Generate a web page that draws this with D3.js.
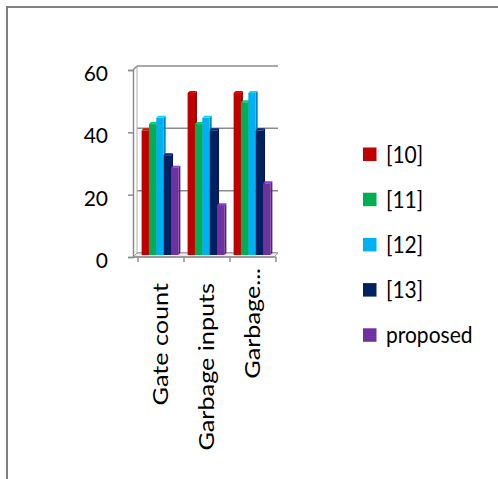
<!DOCTYPE html>
<html>
<head>
<meta charset="utf-8">
<script src="https://cdn.jsdelivr.net/npm/d3@7"></script>
<style>
  body { margin: 0; background: #fff; }
  svg text { font-family: Lato, "Open Sans", sans-serif; fill: #000; }
</style>
</head>
<body>
<script>
(function() {
    const categories = ['Gate count', 'Garbage inputs', 'Garbage...'];
    const seriesNames = ['[10]', '[11]', '[12]', '[13]', 'proposed'];
    const seriesColors = ['#c00000', '#00b050', '#00b0f0', '#002060', '#7030a0'];
    const values10 = [40, 52, 52];
    const values11 = [42, 42, 49];
    const values12 = [44, 44, 52];
    const values13 = [32, 40, 40];
    const valuesProposed = [28, 16, 23];
    const yTicks = [0, 20, 40, 60];

    const allSeries = [values10, values11, values12, values13, valuesProposed];

    const width = 498,
          height = 479,
          depthX = 4,
          depthY = 4,
          labelStretch = 1.2;

    let svg = d3.select('body')
                .append('svg')
                .attr('width', width)
                .attr('height', height);

    // outer chart frame
    svg.append('rect')
       .attr('x', 7).attr('y', 7)
       .attr('width', 520).attr('height', 500)
       .attr('fill', 'none')
       .attr('stroke', '#808080')
       .attr('stroke-width', 2);

    let x = d3.scaleBand()
              .domain(categories)
              .range([137, 275])
              .paddingInner(0.2)
              .paddingOuter(0.1);

    let xInner = d3.scaleBand()
                   .domain(d3.range(seriesNames.length))
                   .range([0, x.bandwidth()]);

    let y = d3.scaleLinear()
              .domain([0, 60])
              .range([257, 70]);

    const backLeft = 133 + depthX,
          backRight = 278;

    // back wall gridlines
    svg.append('g')
       .selectAll('line')
       .data(yTicks)
       .enter()
       .append('line')
       .attr('x1', backLeft)
       .attr('x2', backRight)
       .attr('y1', d => y(d) - depthY)
       .attr('y2', d => y(d) - depthY)
       .attr('stroke', '#8c8c8c')
       .attr('stroke-width', 1.5);

    // side wall
    svg.append('line')
       .attr('x1', backLeft).attr('x2', backLeft)
       .attr('y1', y(60) - depthY).attr('y2', y(0) - depthY)
       .attr('stroke', '#b0b0b0');
    svg.append('line')
       .attr('x1', 133).attr('y1', y(60))
       .attr('x2', backLeft).attr('y2', y(60) - depthY)
       .attr('stroke', '#8c8c8c').attr('stroke-width', 1.5);

    // floor
    svg.append('path')
       .attr('d', `M133,${y(0)}L${backLeft},${y(0) - depthY}L${backRight},${y(0) - depthY}L${backRight - depthX},${y(0)}Z`)
       .attr('fill', '#eeeeee')
       .attr('stroke', '#a0a0a0');

    // bars
    let groups = svg.append('g')
                    .selectAll('g')
                    .data(allSeries)
                    .enter()
                    .append('g');

    groups.each(function(vals, si) {
        let g = d3.select(this);
        let col = d3.color(seriesColors[si]);
        let bw = xInner.bandwidth();
        vals.forEach((v, ci) => {
            let x0 = x(categories[ci]) + xInner(si);
            let top = y(v) - 2;
            let base = y(0) - 2;
            // side
            g.append('path')
             .attr('d', `M${x0 + bw},${top}L${x0 + bw + 2},${top - 2}L${x0 + bw + 2},${base - 2}L${x0 + bw},${base}Z`)
             .attr('fill', col.darker(0.8));
            // top
            g.append('path')
             .attr('d', `M${x0},${top}L${x0 + 2},${top - 2}L${x0 + bw + 2},${top - 2}L${x0 + bw},${top}Z`)
             .attr('fill', col.brighter(0.6));
            // front
            g.append('rect')
             .attr('x', x0)
             .attr('y', top)
             .attr('width', bw)
             .attr('height', base - top)
             .attr('fill', col);
        });
    });

    // y axis
    let yAxis = svg.append('g')
                   .attr('transform', 'translate(133,0)')
                   .call(d3.axisLeft(y).tickValues(yTicks).tickSize(5).tickPadding(20));
    yAxis.select('.domain').attr('stroke', '#8c8c8c').attr('stroke-width', 1.5);
    yAxis.selectAll('.tick line').attr('stroke', '#8c8c8c').attr('stroke-width', 1.5);
    yAxis.selectAll('text')
         .attr('dy', '0.5em')
         .style('font-size', '21px');

    // x axis
    let xAxis = svg.append('g')
                   .attr('transform', `translate(0,${y(0)})`)
                   .call(d3.axisBottom(x).tickSize(0));
    xAxis.select('.domain').remove();
    xAxis.selectAll('.tick line').remove();

    let boundaries = d3.range(categories.length + 1).map(i => 138 + i * x.step());
    svg.append('g')
       .selectAll('line')
       .data(boundaries)
       .enter()
       .append('line')
       .attr('x1', d => d).attr('x2', d => d)
       .attr('y1', y(0)).attr('y2', y(0) + 5)
       .attr('stroke', '#8c8c8c').attr('stroke-width', 1.5);
    svg.append('line')
       .attr('x1', 133).attr('x2', 276)
       .attr('y1', y(0)).attr('y2', y(0))
       .attr('stroke', '#8c8c8c').attr('stroke-width', 1.5);

    xAxis.selectAll('text')
         .attr('transform', `rotate(-90) scale(${labelStretch},1)`)
         .attr('x', (d, i) => -(i === 2 ? 11 : 26) / labelStretch)
         .attr('y', 0)
         .attr('dy', '0.36em')
         .style('text-anchor', 'end')
         .style('font-size', '21px');

    // legend
    let legend = svg.append('g')
                    .selectAll('g')
                    .data(seriesNames)
                    .enter()
                    .append('g')
                    .attr('transform', (d, i) => `translate(363,${154.5 + i * 45.2})`);
    legend.append('rect')
          .attr('x', 0).attr('y', -7)
          .attr('width', 13.5).attr('height', 13.5)
          .attr('fill', (d, i) => seriesColors[i]);
    legend.append('text')
          .attr('x', 23)
          .attr('y', 0)
          .attr('dy', '0.36em')
          .attr('transform', 'scale(1,1.08)')
          .style('font-size', '21px')
          .text(d => d);
})();
</script>
</body>
</html>
